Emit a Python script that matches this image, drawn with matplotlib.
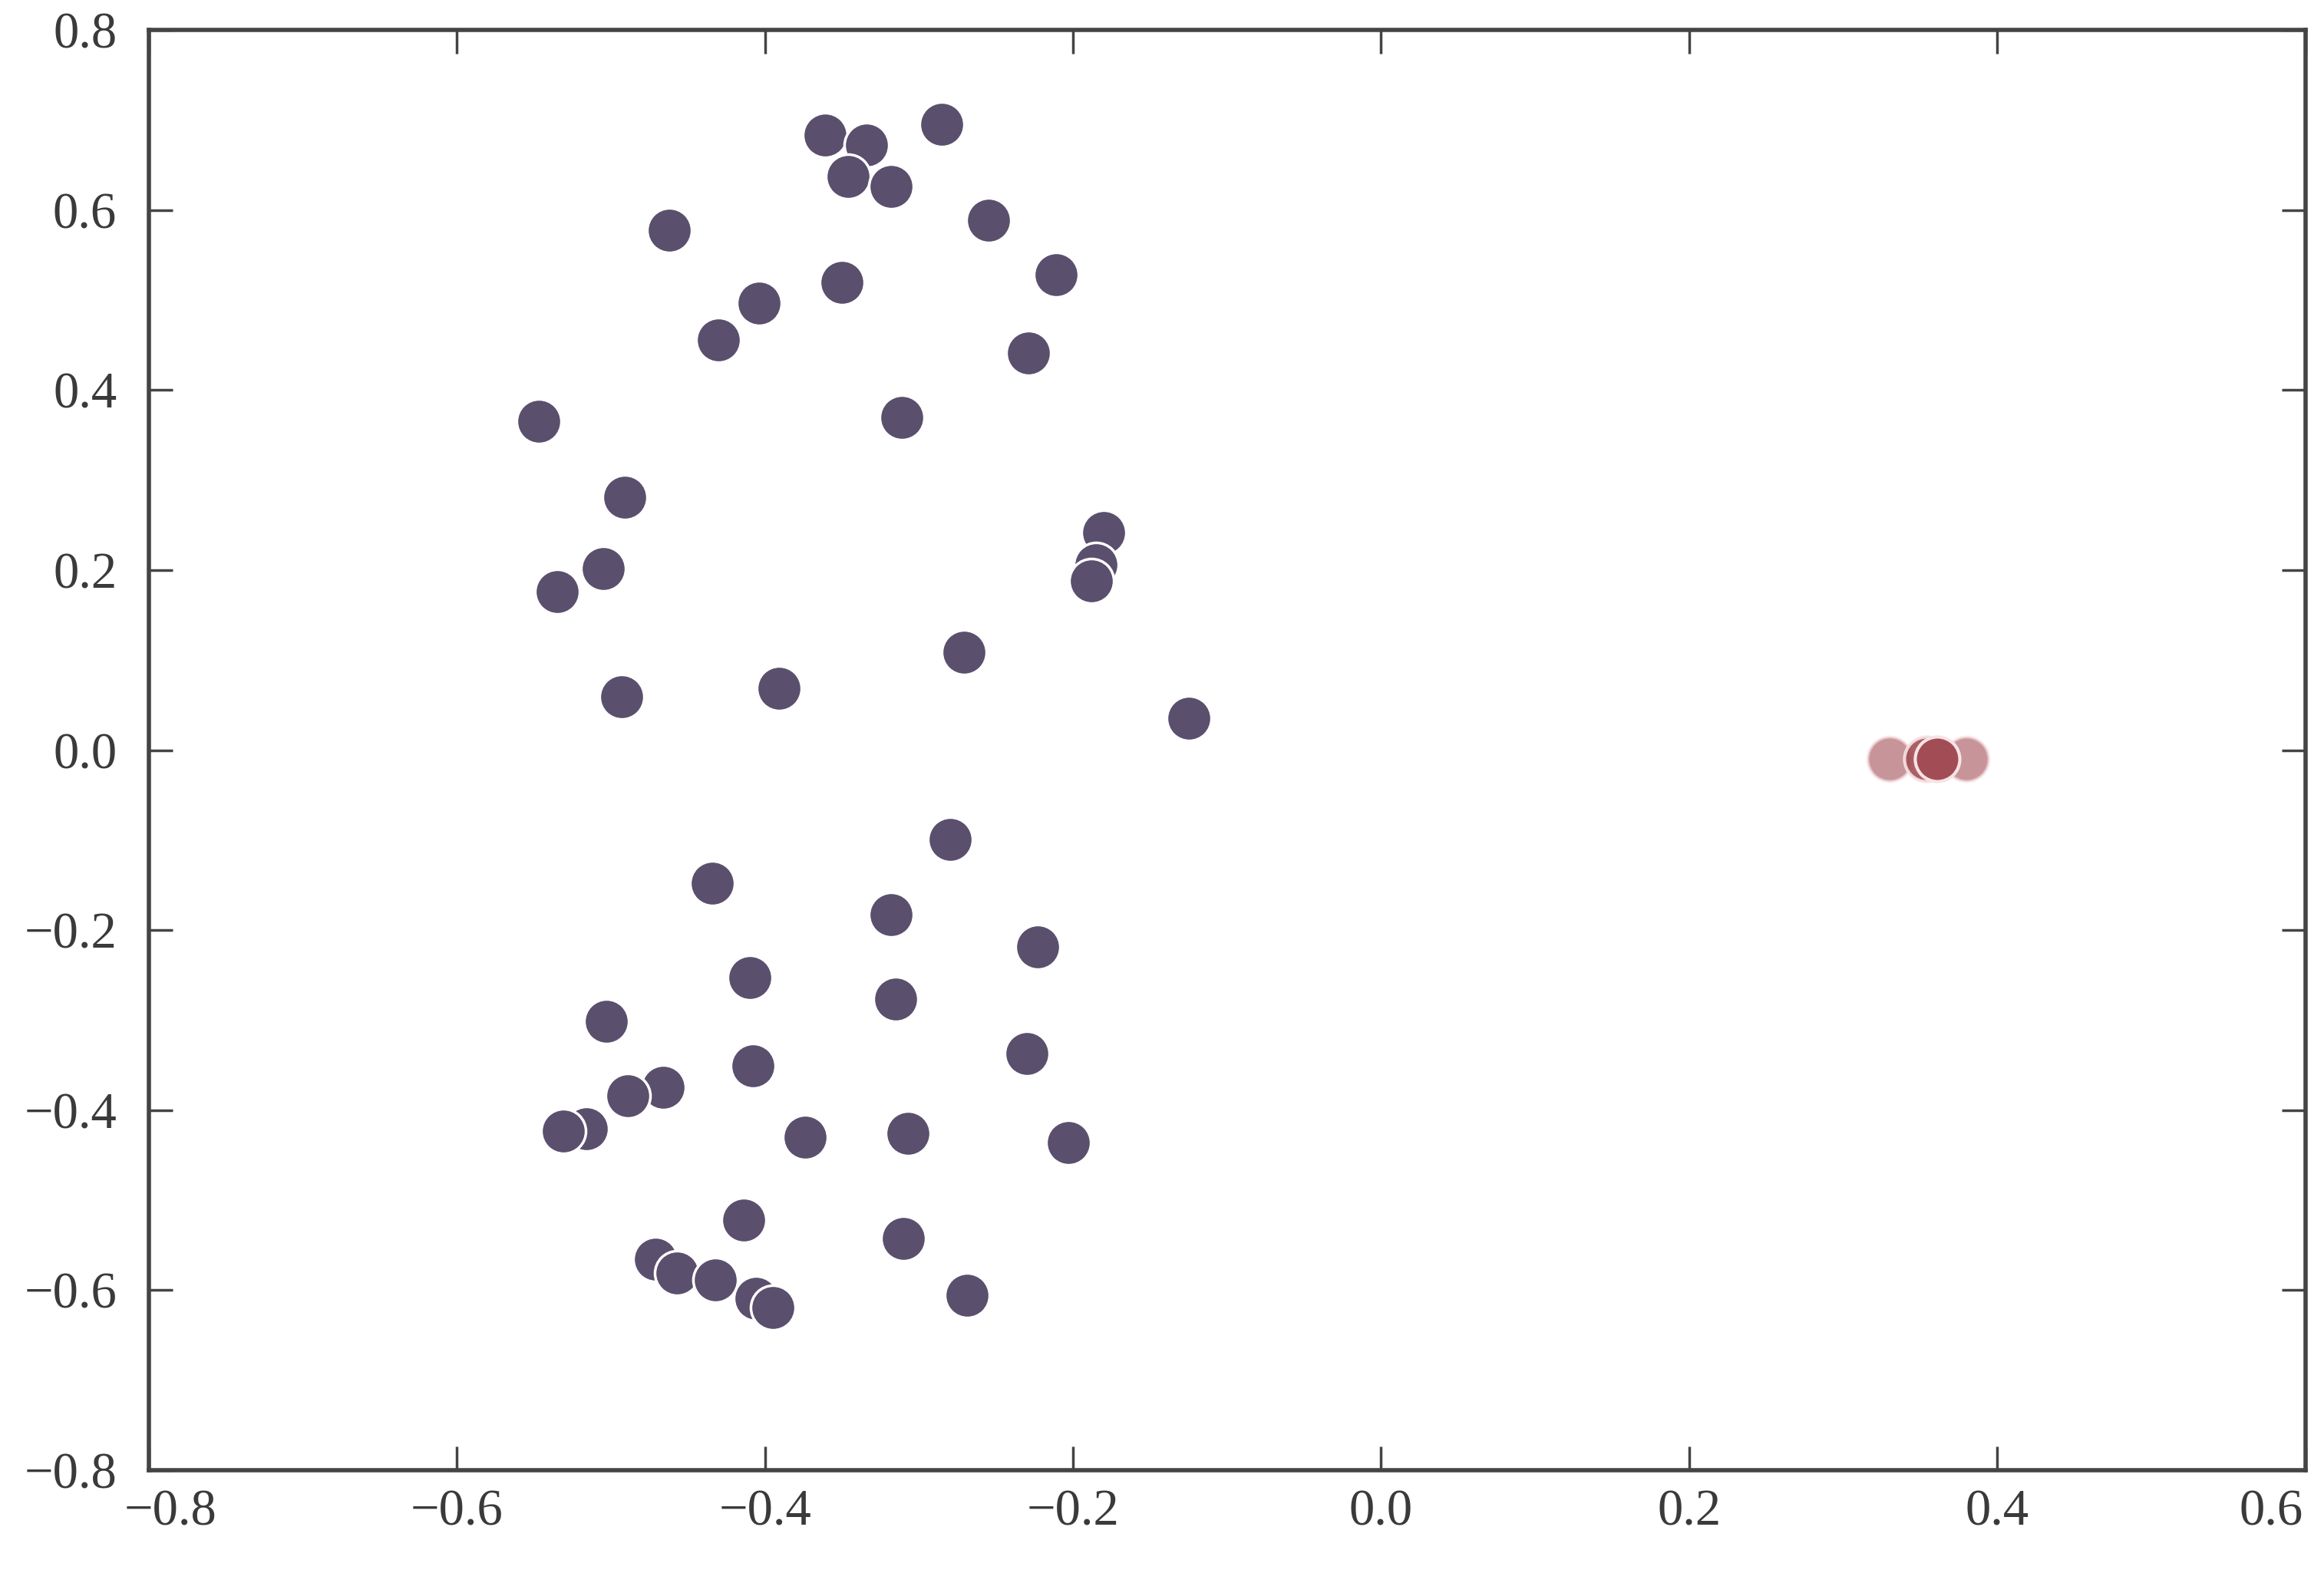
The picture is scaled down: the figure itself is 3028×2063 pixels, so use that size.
import matplotlib
matplotlib.use('Agg')
import matplotlib.pyplot as plt
import matplotlib.transforms as mtransforms
import numpy as np

plt.rcParams['font.family'] = ['Liberation Serif', 'DejaVu Serif']

# blue-ish cluster
x_main = [-0.361, -0.334, -0.346, -0.285, -0.318, -0.255, -0.462, -0.211, -0.350, -0.404,
          -0.430, -0.229, -0.311, -0.547, -0.491, -0.180, -0.185, -0.188, -0.505, -0.535,
          -0.271, -0.391, -0.493, -0.125, -0.280, -0.434, -0.318, -0.223, -0.410, -0.315,
          -0.503, -0.230, -0.408, -0.466, -0.489, -0.516, -0.531, -0.374, -0.307, -0.203,
          -0.414, -0.310, -0.471, -0.457, -0.432, -0.406, -0.395, -0.269]
y_main = [0.683, 0.672, 0.637, 0.695, 0.626, 0.589, 0.578, 0.528, 0.520, 0.497,
          0.456, 0.441, 0.370, 0.365, 0.281, 0.242, 0.206, 0.188, 0.202, 0.176,
          0.109, 0.069, 0.059, 0.035, -0.099, -0.148, -0.183, -0.219, -0.253, -0.277,
          -0.301, -0.337, -0.351, -0.375, -0.384, -0.421, -0.423, -0.430, -0.426, -0.436,
          -0.522, -0.543, -0.566, -0.581, -0.589, -0.609, -0.619, -0.606]

# small red cluster on the right
x_red = [0.330, 0.380, 0.354, 0.361]
y_red = [-0.010, -0.010, -0.010, -0.010]
red_alpha = [0.6, 0.6, 0.9, 1.0]

xticks = [-0.8, -0.6, -0.4, -0.2, 0.0, 0.2, 0.4, 0.6]
yticks = [-0.8, -0.6, -0.4, -0.2, 0.0, 0.2, 0.4, 0.6, 0.8]


def fmt(v, pos=None):
    v = round(v, 1) + 0.0
    return ('%.1f' % v).replace('-', '\u2212')


fig = plt.figure(figsize=(30.28, 20.63), dpi=100)
ax = fig.add_axes([0.064, 0.0713, 0.928, 0.9097])

ax.scatter(x_main, y_main, s=1750, c='#5a4f6d', edgecolors='white', linewidths=2.5, zorder=3)
for xr, yr, a in zip(x_red, y_red, red_alpha):
    ax.scatter(xr, yr, s=1750, c='#a24d55', alpha=a, edgecolors='#f7e3e5', linewidths=3, zorder=3)

ax.set_xlim(-0.8, 0.6)
ax.set_ylim(-0.8, 0.8)
ax.set_xticks(xticks)
ax.set_yticks(yticks)
ax.set_xticklabels([fmt(v) for v in xticks])
ax.set_yticklabels([fmt(v) for v in yticks])

ax.tick_params(direction='in', top=True, right=True, length=22, width=2.5,
               colors='#444444', labelcolor='#3a3a3a', labelsize=48)
ax.tick_params(axis='x', pad=18)
ax.tick_params(axis='y', pad=30)
for sp in ax.spines.values():
    sp.set_linewidth(4)
    sp.set_color('#444444')

# end labels sit a bit inward in the original
labs = ax.get_xticklabels()
labs[0].set_transform(labs[0].get_transform() + mtransforms.ScaledTranslation(0.28, 0, fig.dpi_scale_trans))
labs[-1].set_transform(labs[-1].get_transform() + mtransforms.ScaledTranslation(-0.45, 0, fig.dpi_scale_trans))

fig.savefig('out.png', dpi=100)
